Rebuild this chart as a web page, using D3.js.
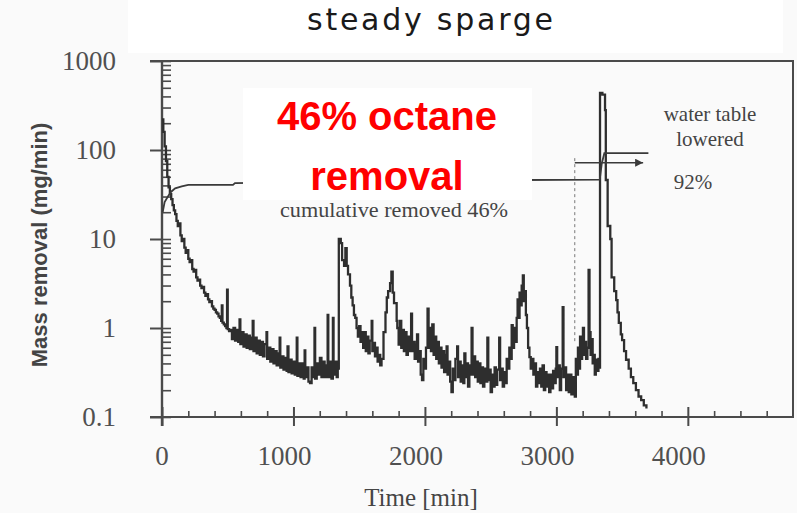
<!DOCTYPE html>
<html>
<head>
<meta charset="utf-8">
<script src="https://cdn.jsdelivr.net/npm/d3@7"></script>
<style>
body { margin: 0; background: #fafafa; }
svg { display: block; }
</style>
</head>
<body>
<div id="chart"></div>
<script>
// mass removal rate, [time (min), mg/min]
var removal = [
  [0,220],[10,160],[20,110],[30,75],[40,50],[50,38],[60,32],[70,28],[80,24],[90,21],[100,19],[110,16],[120,14],[130,15],
  [140,11],[150,9.5],[160,10],[170,8],[180,7],[190,7.5],[200,6],[210,5.5],[220,5.8],[230,4.6],[240,4.3],[250,4.5],
  [260,3.7],[270,3.4],[280,3.5],[290,3.0],[300,2.8],[310,2.9],[320,2.5],[330,2.3],[340,2.4],[350,2.1],[360,1.95],
  [370,2.0],[380,1.75],[390,1.65],[400,1.6],[410,1.5],[420,1.45],[430,1.35],[440,1.3],[450,1.2],[455,1.8],[460,1.15],
  [470,1.1],[480,1.05],[490,1.0],[495,2.7],[500,0.97],[510,0.92],
  [520,0.95],[532,0.75],[544,1.0],[556,0.72],[568,0.95],[580,0.7],[590,1.25],[596,0.66],[608,0.9],[620,0.62],[632,0.85],
  [644,0.6],[656,0.82],[668,0.58],[680,0.78],[690,1.2],[696,0.55],[708,0.78],[720,0.52],[732,0.72],[744,0.5],[756,0.7],
  [768,0.48],[780,0.66],[795,0.9],[800,0.45],[812,0.6],[824,0.42],[836,0.58],[848,0.4],[860,0.55],[872,0.38],[884,0.52],
  [895,0.78],[900,0.36],[912,0.48],[924,0.34],[936,0.46],[948,0.33],[955,0.62],[962,0.32],[974,0.44],[986,0.31],
  [998,0.42],[1010,0.3],[1025,0.78],[1030,0.29],[1042,0.4],[1054,0.28],[1066,0.4],[1078,0.27],[1085,0.56],[1090,0.28],
  [1102,0.36],[1114,0.25],[1126,0.24],[1138,0.36],[1150,0.28],[1160,1.0],[1165,0.27],[1177,0.4],[1189,0.3],[1201,0.46],
  [1213,0.28],[1225,0.42],[1237,0.28],[1249,0.38],[1260,1.4],[1265,0.28],[1277,0.42],[1289,0.27],[1300,1.3],[1305,0.3],
  [1317,0.42],[1329,0.28],[1337,0.35],
  [1345,10],[1360,9],[1370,5.8],[1385,5],[1395,7.9],[1405,5],[1415,4],[1430,3],[1440,2.2],[1450,1.8],[1460,1.4],
  [1470,1.3],[1480,1.0],[1490,0.8],[1500,1.05],[1510,0.7],[1520,0.9],[1530,0.6],[1540,0.9],[1550,0.55],[1560,0.8],
  [1570,0.52],[1580,0.72],[1595,1.2],[1600,0.55],[1610,0.68],[1620,0.48],[1630,0.6],[1640,0.42],[1650,0.5],[1660,0.38],
  [1670,0.45],[1685,0.9],[1700,1.5],[1710,2.2],[1720,2.6],[1735,3.2],[1745,4.3],[1755,2.5],[1765,1.9],[1775,1.9],
  [1785,1.2],
  [1790,1.0],[1800,0.65],[1810,1.2],[1820,0.6],[1830,0.95],[1840,0.55],[1850,0.9],[1860,0.5],[1870,0.8],[1880,0.55],
  [1890,0.75],[1895,1.45],[1902,0.55],[1912,0.7],[1922,0.45],[1932,0.65],[1940,0.85],[1948,0.42],[1958,0.55],[1968,0.3],
  [1978,0.26],[1988,0.45],[1998,0.35],[2008,0.6],[2020,1.65],[2028,0.6],[2036,1.0],[2046,0.55],[2056,1.1],[2066,0.5],
  [2076,0.8],[2086,0.45],[2096,0.7],[2106,0.4],[2116,0.6],[2126,0.36],[2136,0.55],[2146,0.32],[2156,0.5],[2165,0.62],
  [2172,0.3],[2182,0.42],[2192,0.25],[2202,0.19],[2212,0.35],[2222,0.26],[2232,0.45],[2245,0.62],[2252,0.28],[2262,0.42],
  [2272,0.25],[2282,0.38],[2292,0.24],[2300,0.52],[2308,0.28],[2318,0.4],[2328,0.22],[2338,0.38],[2348,0.3],[2355,1.0],
  [2362,0.3],[2372,0.48],[2382,0.28],[2392,0.42],[2402,0.25],[2412,0.4],[2422,0.24],[2432,0.36],[2442,0.22],[2452,0.35],
  [2462,0.25],[2475,0.78],[2482,0.26],[2492,0.34],[2500,0.19],[2510,0.3],[2520,0.22],[2530,0.36],[2540,0.23],[2550,0.34],
  [2565,0.78],[2572,0.26],[2582,0.35],[2592,0.22],[2602,0.32],[2612,0.24],[2622,0.45],[2632,0.35],[2642,0.6],[2652,0.45],
  [2660,1.08],[2668,0.6],[2678,1.0],[2688,0.7],[2698,1.3],[2705,2.1],[2712,1.3],[2720,2.5],[2728,1.8],[2736,3.0],
  [2745,3.9],[2752,2.0],[2760,2.6],[2768,1.4],[2776,1.0],[2785,0.6],[2795,0.47],
  [2805,0.35],[2815,0.45],[2825,0.3],[2835,0.4],[2845,0.22],[2855,0.32],[2865,0.24],[2875,0.35],[2885,0.22],[2895,0.38],
  [2905,0.2],[2915,0.32],[2925,0.22],[2935,0.3],[2945,0.19],[2955,0.3],[2965,0.21],[2975,0.33],[2985,0.24],[2995,0.35],
  [3000,0.61],[3006,0.28],[3016,0.38],[3026,0.2],[3036,0.35],[3048,1.72],[3054,0.28],[3064,0.36],[3074,0.2],[3084,0.3],
  [3094,0.19],[3104,0.3],[3114,0.18],[3124,0.28],[3134,0.19],[3140,0.17],[3148,0.45],[3156,0.3],[3164,0.6],[3172,0.35],
  [3180,0.8],[3188,0.45],[3196,0.7],[3202,1.0],[3210,0.5],[3218,0.7],[3226,0.45],[3236,0.6],[3245,4.5],[3252,0.9],
  [3260,0.5],[3268,0.75],[3276,0.4],[3284,0.5],[3292,0.3],[3300,0.44],[3310,0.33],[3320,0.45],[3327,0.36],
  [3332,437],[3350,420],[3370,280],[3376,46],[3390,14],[3410,10],[3420,3.7],[3440,2.6],[3455,2.06],[3465,1.5],
  [3475,1.14],[3490,0.85],[3500,0.73],[3515,0.55],[3530,0.44],[3550,0.35],[3567,0.28],[3585,0.24],[3605,0.2],
  [3625,0.17],[3645,0.155],[3665,0.135],[3685,0.125]
];

// cumulative removed (%), drawn on the same log axis
var cumulative = [
  [5,20],[20,26],[45,30],[70,34],[100,37],[150,39],[200,40.5],[540,40.6],[555,42.5],[700,42.7],[1400,44],
  [2000,45],[2750,46],[3330,46.5],[3345,70],[3365,92],[3700,92]
];

var xTicks = [0, 1000, 2000, 3000, 4000];
var xMinor = [200,400,600,800,1200,1400,1600,1800,2200,2400,2600,2800,3200,3400,3600,3800,4200,4400,4600];
var yTicks = [0.1, 1, 10, 100, 1000];
var yTickLabels = ["0.1", "1", "10", "100", "1000"];

var waterTableT = 3140, waterTableLow = 0.68, waterTableHigh = 81;
var arrowEndT = 3660, arrowLevel = 72;

var W = 797, H = 513;
var margin = {top: 61, right: 4, bottom: 96, left: 162},
    width = W - margin.left - margin.right,
    height = H - margin.top - margin.bottom;

var serif = "'Liberation Serif', 'Times New Roman', serif";
var sans = "'Liberation Sans', Arial, sans-serif";

var svg = d3.select("#chart").append("svg")
    .attr("width", W)
    .attr("height", H);

// white strip behind the title
svg.append("rect")
    .attr("x", 128).attr("y", 0)
    .attr("width", 655).attr("height", 53)
    .attr("fill", "#ffffff");

svg.append("text")
    .attr("x", 307).attr("y", 30)
    .attr("textLength", 246)
    .attr("lengthAdjust", "spacing")
    .style("font-family", "'DejaVu Sans', Verdana, sans-serif")
    .style("font-size", "30px")
    .attr("fill", "#1a1a1a")
    .text("steady sparge");

var g = svg.append("g")
    .attr("transform", "translate(" + margin.left + "," + margin.top + ")");

var x = d3.scaleLinear().domain([0, 4800]).range([0, width]);
var y = d3.scaleLog().domain([0.1, 1000]).range([height, 0]);

var yMinor = [];
[0.1, 1, 10, 100].forEach(function(d) {
  for (var k = 2; k <= 9; k++) yMinor.push(+(d * k).toPrecision(3));
});

var axisColor = "#4a4a4a";

// inner ticks
g.append("g")
    .call(d3.axisRight(y).tickValues(yTicks.concat(yMinor)).tickSize(9).tickFormat(""))
    .call(function(s) { s.select(".domain").remove(); })
    .selectAll("line").attr("stroke", axisColor).attr("stroke-width", 1.6);

g.append("g")
    .attr("transform", "translate(0," + height + ")")
    .call(d3.axisTop(x).tickValues(xMinor).tickSize(6).tickFormat(""))
    .call(function(s) { s.select(".domain").remove(); })
    .selectAll("line").attr("stroke", axisColor).attr("stroke-width", 1.6);

g.append("g")
    .attr("transform", "translate(0," + height + ")")
    .call(d3.axisTop(x).tickValues(xTicks).tickSize(10).tickFormat(""))
    .call(function(s) { s.select(".domain").remove(); })
    .selectAll("line").attr("stroke", axisColor).attr("stroke-width", 2);

// outer ticks + labels
var yAxis = g.append("g")
    .call(d3.axisLeft(y).tickValues(yTicks).tickSize(12).tickPadding(34)
      .tickFormat(function(d, i) { return yTickLabels[i]; }));
yAxis.select(".domain").remove();
yAxis.selectAll("line").attr("stroke", axisColor).attr("stroke-width", 2);
yAxis.selectAll("text")
    .style("font-family", serif).style("font-size", "27px")
    .attr("fill", "#505050");

var xAxis = g.append("g")
    .attr("transform", "translate(0," + height + ")")
    .call(d3.axisBottom(x).tickValues(xTicks).tickSize(9).tickFormat(""));
xAxis.select(".domain").remove();
xAxis.selectAll("line").attr("stroke", axisColor).attr("stroke-width", 2);

g.selectAll(".xlab")
    .data(xTicks)
  .enter().append("text")
    .attr("class", "xlab")
    .attr("x", function(d) { return x(d) - (d ? 9 : 0); })
    .attr("y", height + 48)
    .attr("text-anchor", "middle")
    .style("font-family", serif).style("font-size", "27px")
    .attr("fill", "#505050")
    .text(function(d) { return d; });

// frame
g.append("path")
    .attr("d", "M" + (-12) + ",0H" + width + "V" + height + "H-12")
    .attr("fill", "none").attr("stroke", axisColor).attr("stroke-width", 2);
g.append("line")
    .attr("x1", 0).attr("x2", 0).attr("y1", 0).attr("y2", height + 9)
    .attr("stroke", axisColor).attr("stroke-width", 2.4);

// series
g.append("path")
    .datum(removal)
    .attr("fill", "none")
    .attr("stroke", "#2e2e2e")
    .attr("stroke-width", 2.3)
    .attr("d", d3.line()
      .curve(d3.curveStepAfter)
      .x(function(d) { return x(d[0]); })
      .y(function(d) { return y(d[1]); }));

g.append("path")
    .datum(cumulative)
    .attr("fill", "none")
    .attr("stroke", "#3a3a3a")
    .attr("stroke-width", 1.8)
    .attr("d", d3.line()
      .x(function(d) { return x(d[0]); })
      .y(function(d) { return y(d[1]); }));

// water table marker
g.append("line")
    .attr("x1", x(waterTableT)).attr("x2", x(waterTableT))
    .attr("y1", y(waterTableHigh)).attr("y2", y(waterTableLow))
    .attr("stroke", "#777").attr("stroke-width", 1)
    .attr("stroke-dasharray", "3,3");

svg.append("defs").append("marker")
    .attr("id", "arrow")
    .attr("viewBox", "0 0 10 10")
    .attr("refX", 10).attr("refY", 5)
    .attr("markerWidth", 5).attr("markerHeight", 5)
    .attr("orient", "auto")
  .append("path")
    .attr("d", "M0,0L10,5L0,10z")
    .attr("fill", "#3a3a3a");

g.append("line")
    .attr("x1", x(waterTableT)).attr("x2", x(arrowEndT))
    .attr("y1", y(arrowLevel)).attr("y2", y(arrowLevel))
    .attr("stroke", "#3a3a3a").attr("stroke-width", 1.6)
    .attr("marker-end", "url(#arrow)");

g.append("text")
    .attr("x", 548).attr("y", 60)
    .attr("text-anchor", "middle")
    .style("font-family", serif).style("font-size", "21px")
    .attr("fill", "#444")
    .text("water table");
g.append("text")
    .attr("x", 548).attr("y", 85)
    .attr("text-anchor", "middle")
    .style("font-family", serif).style("font-size", "21px")
    .attr("fill", "#444")
    .text("lowered");
g.append("text")
    .attr("x", 531).attr("y", 128)
    .attr("text-anchor", "middle")
    .style("font-family", serif).style("font-size", "21px")
    .attr("fill", "#444")
    .text("92%");

// white label box with the red headline
svg.append("rect")
    .attr("x", 243).attr("y", 88)
    .attr("width", 289).attr("height", 112)
    .attr("fill", "#ffffff");

svg.append("text")
    .attr("x", 394).attr("y", 217)
    .attr("text-anchor", "middle")
    .style("font-family", serif).style("font-size", "21px")
    .attr("textLength", 228)
    .attr("lengthAdjust", "spacingAndGlyphs")
    .attr("fill", "#444")
    .text("cumulative removed 46%");

svg.append("text")
    .attr("x", 387).attr("y", 130)
    .attr("text-anchor", "middle")
    .style("font-family", sans).style("font-size", "40px").style("font-weight", "bold")
    .attr("fill", "#ff0000")
    .text("46% octane");
svg.append("text")
    .attr("x", 387).attr("y", 190)
    .attr("text-anchor", "middle")
    .style("font-family", sans).style("font-size", "40px").style("font-weight", "bold")
    .attr("fill", "#ff0000")
    .text("removal");

// axis titles
svg.append("text")
    .attr("x", 421).attr("y", 506)
    .attr("text-anchor", "middle")
    .style("font-family", serif).style("font-size", "25px")
    .attr("fill", "#454545")
    .text("Time [min]");

svg.append("text")
    .attr("transform", "translate(47,245) rotate(-90)")
    .attr("text-anchor", "middle")
    .style("font-family", sans).style("font-size", "22px").style("font-weight", "bold")
    .attr("fill", "#444")
    .text("Mass removal (mg/min)");
</script>
</body>
</html>
